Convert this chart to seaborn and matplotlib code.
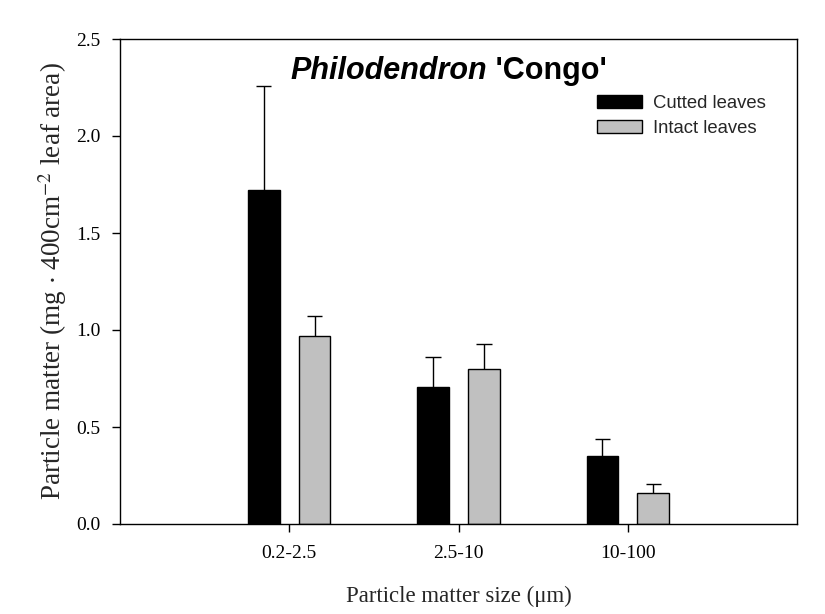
import numpy as np
import pandas as pd
import matplotlib
matplotlib.use("Agg")
import matplotlib.pyplot as plt
import seaborn as sns
from matplotlib.offsetbox import TextArea, HPacker, AnchoredOffsetbox

categories = ["0.2-2.5", "2.5-10", "10-100"]
groups = ["Cutted leaves", "Intact leaves"]
cutted_mean = [1.72, 0.705, 0.35]
cutted_err = [0.54, 0.155, 0.087]
intact_mean = [0.97, 0.80, 0.158]
intact_err = [0.10, 0.128, 0.047]

df = pd.DataFrame({
    "size": categories * 2,
    "group": [groups[0]] * 3 + [groups[1]] * 3,
    "value": cutted_mean + intact_mean,
})
errs = cutted_err + intact_err

sns.set_theme(style="white")
plt.rcParams["font.family"] = ["Liberation Serif", "DejaVu Serif"]
plt.rcParams["mathtext.fontset"] = "stix"

fig = plt.figure(figsize=(8.25, 6.14), dpi=100)
ax = fig.add_axes([120 / 825, 1 - 524 / 614, 677 / 825, 485 / 614])

sns.barplot(data=df, x="size", y="value", hue="group", order=categories,
            hue_order=groups, palette=["#000000", "#C0C0C0"],
            edgecolor="black", linewidth=1.0, width=0.6, gap=0.38,
            errorbar=None, ax=ax, legend=True)

# error bars (upper only) at the bar centres computed by seaborn
bars = [p for p in ax.patches if p.get_height() > 0]
for bar in bars:
    xc = bar.get_x() + bar.get_width() / 2
    h = bar.get_height()
    idx = df.index[np.isclose(df["value"], h)][0]
    e = errs[idx]
    ax.vlines(xc, h, h + e, color="black", lw=1.0)
    ax.hlines(h + e, xc - 0.045, xc + 0.045, color="black", lw=1.0)

ax.set_xlim(-1.0, 3.0)
ax.set_ylim(0, 2.5)
ax.set_yticks([0, 0.5, 1.0, 1.5, 2.0, 2.5])
ax.set_yticklabels(["0.0", "0.5", "1.0", "1.5", "2.0", "2.5"])
for s in ax.spines.values():
    s.set_visible(True)
    s.set_color("black")
    s.set_linewidth(1.0)
ax.tick_params(axis="both", direction="out", length=6, width=1, colors="black",
               labelsize=14, left=True, bottom=True, top=False, right=False)
ax.tick_params(axis="x", pad=9)
ax.tick_params(axis="y", pad=8)

ax.set_xlabel("Particle matter size (\u03bcm)", fontsize=16.4, labelpad=17)
ax.set_ylabel(r"Particle matter (mg $\cdot$ 400cm$^{-2}$ leaf area)", fontsize=19.5, labelpad=5)

leg = ax.legend(loc="upper left", bbox_to_anchor=(0.705, 0.884), frameon=False,
                prop={"family": "Liberation Sans", "size": 13.3},
                handlelength=2.4, handleheight=0.7, handletextpad=0.6,
                labelspacing=0.42, borderpad=0, borderaxespad=0)
for h in leg.legend_handles:
    h.set_edgecolor("black")
    h.set_linewidth(1.0)

t1 = TextArea("Philodendron", textprops=dict(family="Liberation Sans", weight="bold",
                                              style="italic", size=22, color="black"))
t2 = TextArea(" 'Congo'", textprops=dict(family="Liberation Sans", weight="bold",
                                          size=22, color="black"))
box = HPacker(children=[t1, t2], align="baseline", pad=0, sep=0)
anch = AnchoredOffsetbox(loc="center", child=box, pad=0, frameon=False,
                         bbox_to_anchor=(0.485, 0.935), bbox_transform=ax.transAxes,
                         borderpad=0)
ax.add_artist(anch)

fig.savefig("out.png", dpi=100)
